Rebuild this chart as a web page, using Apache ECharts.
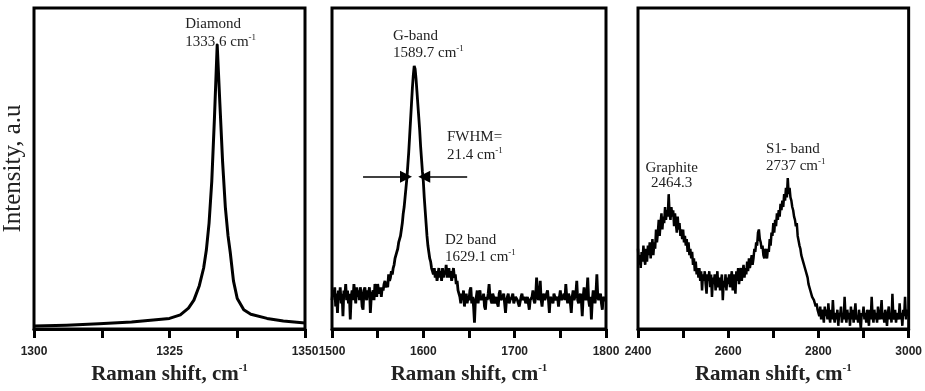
<!DOCTYPE html>
<html>
<head>
<meta charset="utf-8">
<script src="https://cdn.jsdelivr.net/npm/echarts@6/dist/echarts.min.js"></script>
<style>
  html, body { margin: 0; padding: 0; background: #fff; }
  #chart { width: 925px; height: 391px; }
</style>
</head>
<body>
<div id="chart"></div>
<script>
// diamond peak (panel 1)
const diamondX = [1300, 1306, 1312, 1318, 1322, 1325, 1327, 1328.5, 1329.5, 1330.5, 1331.3, 1331.8,
  1332.3, 1332.8, 1333.3, 1333.8, 1334.3, 1334.8, 1335.3, 1335.8, 1336.2, 1336.8, 1337.5, 1338.7,
  1340, 1343, 1346, 1350];
const diamondY = [0.9, 1.2, 1.6, 2.2, 2.8, 3.3, 4.4, 6.5, 9, 13.5, 19, 24.6,
  33, 46, 66, 88.5, 70, 52, 38, 29, 24, 15, 9.5, 6,
  4.6, 3.3, 2.5, 1.9];

// G-band spectrum (panel 2), one reading per cm-1 from 1500
const gbandStart = 1500, gbandStep = 1;
const gbandY = [
  9, 12, 10, 13, 7, 11, 5, 12, 9, 13,
  8, 11, 4, 12, 10, 14, 9, 12, 8, 11,
  3, 10, 12, 9, 14, 11, 8, 13, 10, 12,
  9, 13, 11, 7, 6, 12, 13, 10, 9, 12,
  11, 13, 5, 10, 11, 12, 9, 14, 13, 10,
  14, 12, 11, 13, 10, 13, 12, 14, 15, 13,
  14, 13, 17, 15, 16, 18, 17, 19, 20, 22,
  23, 24, 25, 27, 28, 29, 31, 33, 36, 38,
  41, 44, 47, 51, 55, 60, 65, 70, 75, 79,
  82, 81, 78, 74, 70, 66, 62, 57, 53, 49,
  46, 41, 37, 33, 29, 26, 24, 22, 21, 19,
  18, 17, 19, 16, 18, 15, 17, 19, 16, 18,
  15, 19, 16, 18, 17, 20, 16, 18, 19, 16,
  18, 15, 17, 19, 16, 17, 14, 15, 12, 11,
  10, 8, 11, 9, 12, 7, 10, 11, 8, 10,
  9, 12, 13, 8, 10, 7, 2, 9, 10, 12,
  8, 11, 12, 9, 10, 9, 11, 7, 6, 10,
  9, 11, 14, 10, 9, 8, 11, 10, 8, 9,
  10, 8, 7, 11, 12, 9, 9, 10, 11, 8,
  5, 9, 10, 11, 8, 9, 9, 10, 11, 8,
  8, 10, 10, 9, 9, 7, 7, 10, 11, 9,
  9, 10, 8, 9, 10, 8, 6, 9, 9, 10,
  12, 9, 8, 10, 16, 11, 9, 10, 15, 9,
  7, 10, 11, 9, 9, 11, 12, 9, 5, 10,
  10, 9, 8, 11, 11, 9, 9, 10, 7, 10,
  12, 9, 9, 10, 11, 9, 14, 10, 8, 11,
  10, 8, 5, 10, 12, 9, 9, 11, 15, 9,
  8, 10, 11, 9, 4, 10, 13, 10, 9, 11,
  16, 9, 7, 10, 3, 9, 12, 10, 8, 11,
  17, 10, 9, 10, 11, 8, 6, 10, 10, 9,
  9
];

// second order spectrum (panel 3), one reading per 2 cm-1 from 2400
const s1Start = 2400, s1Step = 2;
const s1Y = [
  25, 20, 23, 19, 24, 21, 26, 22, 20, 25,
  21, 26, 23, 27, 22, 25, 28, 23, 27, 25,
  31, 27, 30, 34, 29, 33, 36, 31, 35, 33,
  38, 34, 37, 35, 42, 36, 34, 38, 35, 37,
  32, 36, 33, 30, 35, 31, 33, 29, 31, 28,
  31, 27, 29, 26, 28, 24, 27, 23, 25, 22,
  24, 20, 22, 18, 21, 17, 19, 16, 19, 15,
  18, 12, 17, 15, 18, 14, 11, 17, 15, 18,
  13, 17, 10, 16, 14, 17, 12, 15, 18, 13,
  16, 12, 15, 17, 9, 15, 13, 17, 12, 16,
  14, 17, 13, 16, 18, 12, 17, 14, 11, 18,
  15, 19, 14, 17, 19, 15, 18, 20, 16, 19,
  17, 21, 18, 22, 19, 21, 23, 20, 22, 25,
  24, 27, 26, 30, 31, 28, 27, 25, 26, 23,
  22, 25, 23, 22, 25, 24, 28, 26, 30, 29,
  33, 30, 34, 32, 36, 34, 37, 35, 39, 37,
  40, 38, 42, 40, 44, 41, 47, 42, 44, 41,
  40, 38, 37, 35, 34, 32, 33, 29, 29, 26,
  25, 23, 23, 21, 21, 19, 19, 17, 16, 14,
  14, 12, 12, 10, 10, 9, 9, 7, 8, 6,
  6, 4, 7, 3, 6, 5, 2, 7, 4, 6,
  3, 8, 4, 2, 6, 3, 9, 4, 2, 5,
  3, 6, 1, 5, 4, 7, 2, 5, 3, 10,
  4, 2, 6, 3, 5, 1, 7, 3, 6, 2,
  5, 8, 3, 4, 2, 6, 3, 0, 5, 4,
  7, 3, 5, 2, 6, 4, 1, 6, 3, 10,
  4, 2, 6, 3, 5, 2, 7, 4, 3, 5,
  9, 3, 5, 2, 6, 4, 1, 5, 7, 3,
  5, 2, 11, 4, 3, 6, 2, 5, 4, 3,
  8, 3, 5, 1, 6, 4, 10, 3, 5, 6,
  4
];

// axes: range, tick step, labelled step
const xMin = [1300, 1500, 2400];
const xMax = [1350, 1800, 3000];
const tickStep = [12.5, 50, 100];
const labelStep = [25, 100, 200];

// FWHM marker level and arrow ends
const fwhmLevel = 47.4;
const fwhmArrows = [[1534, 1581], [1648, 1601]];

const serif = 'Liberation Serif, Times New Roman, serif';
const chart = echarts.init(document.getElementById('chart'));

const grids = [
  { left: 33, top: 8, width: 272, height: 321 },
  { left: 332, top: 8, width: 274, height: 321 },
  { left: 638, top: 8, width: 273, height: 321 }
].map(g => Object.assign(g, { show: true, borderColor: '#000', borderWidth: 3 }));

const xAxes = xMin.map((mn, i) => ({
  type: 'value',
  gridIndex: i,
  min: mn,
  max: xMax[i],
  interval: tickStep[i],
  axisLine: { onZero: false, lineStyle: { color: '#000', width: 3 } },
  axisTick: { length: 9, lineStyle: { color: '#000', width: 3 } },
  splitLine: { show: false },
  axisLabel: {
    margin: 17,
    fontFamily: 'Liberation Sans, Arial, sans-serif',
    fontWeight: 'bold',
    fontSize: 12,
    color: '#222',
    formatter: v => (v % labelStep[i] === 0 ? String(v) : '')
  },
  name: '{b|Raman shift, cm}{s|-1}',
  nameLocation: 'middle',
  nameGap: 34,
  nameTextStyle: {
    rich: {
      b: { fontFamily: serif, fontWeight: 'bold', fontSize: 21, lineHeight: 24, color: '#222' },
      s: { fontFamily: serif, fontWeight: 'bold', fontSize: 11, lineHeight: 24, verticalAlign: 'top', color: '#222' }
    }
  }
}));

const yAxes = [0, 1, 2].map(i => ({
  type: 'value',
  gridIndex: i,
  min: 0,
  max: 100,
  axisLine: { show: false },
  axisTick: { show: false },
  axisLabel: { show: false },
  splitLine: { show: false },
  name: i === 0 ? 'Intensity, a.u' : '',
  nameLocation: 'middle',
  nameGap: 8,
  nameTextStyle: { fontFamily: serif, fontSize: 25, color: '#222' }
}));

chart.setOption({
  animation: false,
  backgroundColor: '#fff',
  grid: grids,
  xAxis: xAxes,
  yAxis: yAxes,
  series: [
    {
      type: 'line', xAxisIndex: 0, yAxisIndex: 0, showSymbol: false, silent: true,
      data: diamondX.map((x, i) => [x, diamondY[i]]),
      lineStyle: { color: '#000', width: 3, join: 'round' }
    },
    {
      type: 'line', xAxisIndex: 1, yAxisIndex: 1, showSymbol: false, silent: true,
      data: gbandY.map((v, i) => [gbandStart + i * gbandStep, v]),
      lineStyle: { color: '#000', width: 2.8 },
      markLine: {
        silent: true,
        symbol: ['none', 'triangle'],
        symbolSize: 12,
        label: { show: false },
        lineStyle: { type: 'solid', color: '#000', width: 1.5 },
        data: fwhmArrows.map(a => [{ coord: [a[0], fwhmLevel] }, { coord: [a[1], fwhmLevel] }])
      }
    },
    {
      type: 'line', xAxisIndex: 2, yAxisIndex: 2, showSymbol: false, silent: true,
      data: s1Y.map((v, i) => [s1Start + i * s1Step, v]),
      lineStyle: { color: '#000', width: 2.5 }
    }
  ]
});

// peak annotations
function note(gridIndex, at, text, align, lh) {
  const p = chart.convertToPixel({ gridIndex: gridIndex }, at);
  return {
    type: 'text', x: p[0], y: p[1], silent: true,
    style: {
      text: text, align: align, verticalAlign: 'top',
      rich: {
        n: { fontFamily: serif, fontSize: 15, lineHeight: lh, fill: '#222' },
        s: { fontFamily: serif, fontSize: 9, lineHeight: lh, verticalAlign: 'top', fill: '#222' }
      }
    }
  };
}

chart.setOption({
  graphic: [
    note(0, [1327.9, 97.8], '{n|Diamond}\n{n|1333.6 cm}{s|-1}', 'left', 18),
    note(1, [1566.8, 93.9], '{n|G-band}\n{n|1589.7 cm}{s|-1}', 'left', 17),
    note(1, [1625.9, 62.6], '{n|FWHM=}\n{n|21.4 cm}{s|-1}', 'left', 18),
    note(1, [1623.7, 30.5], '{n|D2 band}\n{n|1629.1 cm}{s|-1}', 'left', 17),
    note(2, [2474.7, 52.5], '{n|Graphite}\n{n|2464.3}', 'center', 15),
    note(2, [2683.5, 58.7], '{n|S1- band}\n{n|2737 cm}{s|-1}', 'left', 17)
  ]
});
</script>
</body>
</html>
